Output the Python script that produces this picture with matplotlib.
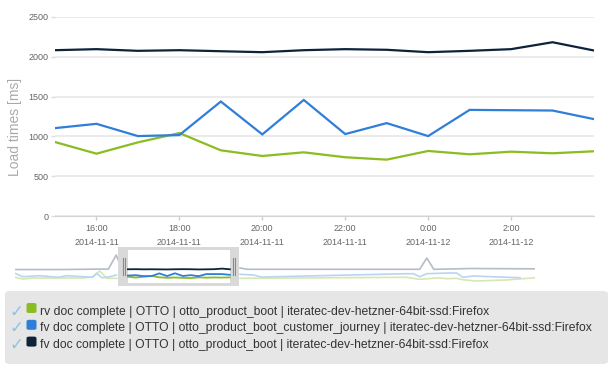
import matplotlib
matplotlib.use('Agg')
import matplotlib.pyplot as plt
from matplotlib.patches import Rectangle, FancyBboxPatch

plt.rcParams['font.family'] = ['Liberation Sans', 'DejaVu Sans']

# hours since 2014-11-11 00:00
hours = [15, 16, 17, 18, 19, 20, 21, 22, 23, 24, 25, 26, 27, 28]

rv_boot = [929, 783, 925, 1042, 825, 754, 800, 738, 708, 817, 775, 808, 788, 813]
fv_journey = [1104, 1158, 1004, 1017, 1438, 1025, 1458, 1029, 1167, 1004, 1333, 1329, 1325, 1217]
fv_boot = [2083, 2096, 2075, 2083, 2070, 2058, 2083, 2096, 2088, 2058, 2075, 2096, 2183, 2079]

labels = [
    'rv doc complete | OTTO | otto_product_boot | iteratec-dev-hetzner-64bit-ssd:Firefox',
    'fv doc complete | OTTO | otto_product_boot_customer_journey | iteratec-dev-hetzner-64bit-ssd:Firefox',
    'fv doc complete | OTTO | otto_product_boot | iteratec-dev-hetzner-64bit-ssd:Firefox',
]
colors = ['#8bbc21', '#2f7ed8', '#0d233a']
faded = ['#d6e8b0', '#b9d5f3', '#b4bcc6']

# navigator (overview) series outside the selected window
nav_rv_left_h = [0.6, 1.6, 2.9, 9.3, 10.5, 11.4, 12.3, 13.6]
nav_rv_left = [830, 560, 720, 720, 900, 1810, 670, 670]
nav_rv_right_h = [29.3, 50.5, 52.2, 53.8, 54.7, 55.6, 56.9, 57.7, 59.4, 63.2, 66.9]
nav_rv_right = [670, 830, 510, 670, 760, 610, 670, 450, 250, 410, 760]

nav_fj_left_h = [0.6, 1.6, 3.8, 6.1, 7.2, 10.5, 11.0, 11.7, 12.7, 13.5]
nav_fj_left = [1450, 920, 1080, 830, 1080, 830, 1450, 760, 920, 1190]
nav_fj_right_h = [29.3, 31.0, 32.0, 50.5, 51.4, 52.2, 53.1, 56.0, 56.9, 57.7, 59.0, 65.0]
nav_fj_right = [1300, 1190, 870, 1390, 1390, 920, 1390, 1500, 1500, 830, 1030, 760]

nav_fb_left_h = [0.6, 6.3, 11.4, 12.5, 13.5, 14.2]
nav_fb_left = [2040, 2040, 2110, 2110, 4300, 2240]
nav_fb_right_h = [29.3, 30.2, 52.2, 53.1, 54.0, 58.6, 66.9]
nav_fb_right = [2280, 2075, 2075, 3840, 2075, 2200, 2150]

W, H = 615, 376
fig = plt.figure(figsize=(W / 100, H / 100), dpi=100)


def px(x0, y0, x1, y1):
    # pixel box (top-left origin) -> figure fraction rect
    return [x0 / W, 1 - y1 / H, (x1 - x0) / W, (y1 - y0) / H]


# ── main chart ─────────────────────────────────────────
ax = fig.add_axes(px(55, 17, 594, 216))
for s, c in zip([rv_boot, fv_journey, fv_boot], colors):
    ax.plot(hours, s, color=c, lw=1.6, solid_joinstyle='miter', zorder=3)

tick_h = hours[1:-1:2]
ax.set_xlim(hours[0], hours[-1])
ax.set_ylim(0, 2500)
ax.set_yticks(range(0, 2501, 500))
ax.set_xticks(tick_h)
ax.set_xticklabels([f'{h % 24}:00\n2014-11-{11 + h // 24}' for h in tick_h],
                   linespacing=1.65)
ax.grid(axis='y', color='#e8e8e8', lw=1.2)
ax.set_axisbelow(True)
for sp in ['top', 'right', 'left']:
    ax.spines[sp].set_visible(False)
ax.spines['bottom'].set_color('#d4d4d4')
ax.tick_params(axis='y', length=3, width=1, color='#dddddd', pad=1.5,
               labelsize=6.5, labelcolor='#666666')
ax.tick_params(axis='x', length=3, width=1, color='#cccccc', pad=3,
               labelsize=6.5, labelcolor='#666666')
fig.text(15 / W, 1 - 127 / H, 'Load times [ms]', rotation=90, ha='center',
         va='center', fontsize=10, color='#aaaaaa')

# ── navigator ──────────────────────────────────────────
nav = fig.add_axes(px(15, 250, 535, 283))
nav.set_xlim(0.6, 66.9)
nav.set_ylim(-60, 5090)
nav.axis('off')
for lh, lv, rh, rv, c in [
        (nav_rv_left_h, nav_rv_left, nav_rv_right_h, nav_rv_right, faded[0]),
        (nav_fj_left_h, nav_fj_left, nav_fj_right_h, nav_fj_right, faded[1]),
        (nav_fb_left_h, nav_fb_left, nav_fb_right_h, nav_fb_right, faded[2])]:
    nav.plot(lh, lv, color=c, lw=1.2, zorder=2)
    nav.plot(rh, rv, color=c, lw=1.2, zorder=2)

# selection frame around the visible range
hpp = 13 / 102  # hours per navigator pixel
vpp = 156       # value per navigator pixel
fx0, fx1 = hours[0] - 10 * hpp, hours[-1] + 9 * hpp
fy0, fy1 = -60 - 3 * vpp, 5090 + 3 * vpp
nav.add_patch(Rectangle((fx0, fy0), fx1 - fx0, fy1 - fy0, facecolor='#d9d9d9',
                        edgecolor='none', clip_on=False, zorder=4))
nav.add_patch(Rectangle((hours[0], -60), hours[-1] - hours[0], 5150,
                        facecolor='white', edgecolor='none', zorder=5))
for hx in [hours[0] - 5.3 * hpp, hours[0] - 3 * hpp,
           hours[-1] + 3 * hpp, hours[-1] + 5.5 * hpp]:
    nav.plot([hx, hx], [1200, 3850], color='#8a8a8a', lw=0.8, zorder=6)
for s, c in zip([rv_boot, fv_journey, fv_boot], colors):
    nav.plot(hours, s, color=c, lw=1.3, zorder=7)

# ── legend box ─────────────────────────────────────────
box = FancyBboxPatch((5 / W, 1 - 364 / H), 603 / W, 73 / H,
                     boxstyle='round,pad=0,rounding_size=0.008',
                     transform=fig.transFigure, facecolor='#e6e6e6',
                     edgecolor='none', zorder=0)
fig.patches.append(box)
for i, (lab, c) in enumerate(zip(labels, colors)):
    yc = 311 + i * 16.8
    fig.text(16.5 / W, 1 - (yc + 0.5) / H, '\u2713', ha='center', va='center',
             fontsize=12, color='#8ec2e3', family=['DejaVu Sans'])
    sq = FancyBboxPatch((26.5 / W, 1 - (yc + 2) / H), 10 / W, 10 / H,
                        boxstyle='round,pad=0,rounding_size=0.004',
                        transform=fig.transFigure, facecolor=c,
                        edgecolor='none')
    fig.patches.append(sq)
    fig.text(40 / W, 1 - (yc + 0.5) / H, lab, ha='left', va='center',
             fontsize=8.75, color='#333333')

fig.savefig('out.png', dpi=100)
